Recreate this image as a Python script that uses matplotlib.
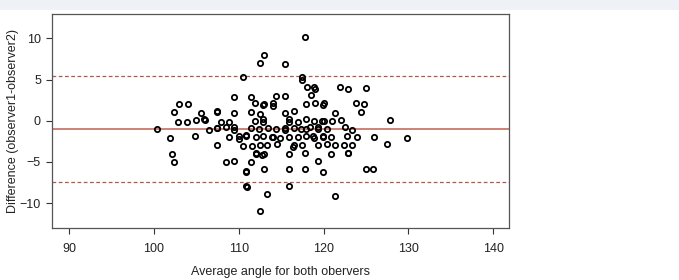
import matplotlib
matplotlib.use("Agg")
from matplotlib import pyplot as plt
from matplotlib.patches import Rectangle
import numpy as np

plt.rcParams['font.family'] = ['Liberation Sans', 'DejaVu Sans']

# averages of the two observers (x) and their differences (y)
avg_angle = [100.4, 101.9, 102.1, 102.4, 102.4, 103.0, 102.9, 103.9, 104.0, 104.8,
             105.0, 105.5, 105.9, 106.0, 106.5, 107.4, 107.5, 107.4, 107.5, 107.5,
             107.9, 108.5, 108.5, 108.9, 108.9, 109.4, 109.5, 109.5, 109.5, 109.5,
             110.0, 110.0, 110.5, 110.5, 110.9, 110.9, 110.9, 110.9, 110.9, 111.0,
             111.4, 111.5, 111.5, 111.5, 111.6, 111.9, 111.9, 112.0, 112.0, 112.0,
             112.5, 112.5, 112.4, 112.5, 112.5, 112.8, 112.9, 113.0, 112.9, 112.9,
             112.9, 113.0, 113.0, 113.0, 113.3, 113.3, 113.4, 113.9, 114.0, 114.1,
             114.0, 114.4, 114.4, 114.5, 114.9, 115.4, 115.4, 115.4, 115.4, 115.4,
             115.9, 115.9, 115.9, 115.9, 115.9, 115.9, 116.5, 116.5, 116.5, 116.4,
             117.0, 117.0, 117.3, 117.5, 117.5, 117.5, 117.8, 117.8, 117.8, 117.9,
             117.9, 118.0, 117.9, 117.9, 118.4, 118.5, 118.8, 118.9, 119.0, 119.0,
             118.9, 118.9, 119.4, 119.4, 119.4, 119.4, 119.9, 120.0, 119.8, 120.0,
             119.9, 119.9, 119.9, 120.4, 120.4, 120.9, 121.0, 120.9, 121.3, 121.3,
             121.3, 121.95, 122.0, 122.35, 122.5, 122.9, 122.8, 122.9, 122.9, 123.3,
             123.3, 123.8, 123.9, 124.4, 124.8, 125.0, 125.0, 125.8, 126.0, 127.5,
             127.8, 129.8]
diff = [-1.0, -2.1, -4.0, -5.0, 1.05, 2.0, -0.1, -0.1, 2.0, -1.9,
        0.1, 0.9, 0.2, 0.1, -1.1, 1.2, 1.05, -0.9, -0.9, -3.0,
        -0.1, -0.8, -5.0, -0.2, -2.0, 2.9, 0.9, -0.8, -1.1, -4.9,
        -1.8, -2.2, 5.25, -3.1, -1.7, -1.9, -6.1, -6.2, -7.9, -8.0,
        -5.0, 2.9, 1.1, -0.85, -3.1, 2.2, 0.0, -2.0, -3.9, -4.0,
        6.95, 0.85, -1.0, -2.9, -10.9, -4.1, 1.9, 2.0, 0.25, -0.15,
        -1.9, -4.0, -5.9, 8.0, -2.95, -8.85, -0.9, -2.0, 2.1, 1.85,
        -2.0, 2.95, -0.95, -2.8, -2.05, 6.85, 3.0, 1.0, -0.9, -1.1,
        -0.1, 0.25, -2.0, -4.0, -5.9, -7.9, 1.2, -0.85, -3.0, -3.2,
        -0.1, -2.0, -1.0, 5.3, 5.0, -2.9, 10.1, -5.9, -3.9, 0.25,
        2.0, 4.05, -0.95, -1.9, -0.8, 3.1, -1.9, 4.1, 3.9, 2.1,
        -0.05, -2.05, -0.8, -1.05, -3.0, -4.9, 1.9, 2.1, 0.0, 0.0,
        -1.9, -2.0, -6.2, -1.05, -2.8, -2.0, 0.0, -4.0, 0.9, -2.95,
        -9.1, 4.15, 0.1, -3.0, -0.75, 3.9, -1.85, -3.9, -3.95, -1.1,
        -3.0, 2.1, -2.0, 1.05, 2.0, 4.0, -5.85, -5.9, -2.0, -2.8,
        0.1, -2.15]

mean_diff = -1.0
upper_loa = 5.47
lower_loa = -7.45

fig = plt.figure(figsize=(6.79, 2.80), dpi=100)
fig.patch.set_facecolor('white')
fig.patches.append(Rectangle((0, 0.965), 1, 0.035, transform=fig.transFigure,
                             facecolor='#eef1f5', edgecolor='none', zorder=-1))
ax = fig.add_axes([0.0766, 0.186, 0.673, 0.764])

ax.plot(avg_angle, diff, 'o', mfc='none', mec='black', ms=3.8, mew=1.3, zorder=3)
ax.axhline(mean_diff, color='#c8786c', lw=1.3, zorder=2)
ax.axhline(upper_loa, color='#b0584a', lw=0.9, ls=(0, (3, 2)), zorder=2)
ax.axhline(lower_loa, color='#b0584a', lw=0.9, ls=(0, (3, 2)), zorder=2)

ax.set_xlim(88.0, 141.85)
ax.set_ylim(-13.0, 12.95)
ax.set_xticks([90, 100, 110, 120, 130, 140])
ax.set_yticks([-10, -5, 0, 5, 10])
ax.tick_params(direction='out', length=4, width=0.8, colors='#333333',
               labelsize=9, labelcolor='#222222')
ax.tick_params(axis='x', pad=7)
ax.tick_params(axis='y', pad=4)
for s in ax.spines.values():
    s.set_color('#555555')
    s.set_linewidth(0.9)

ax.set_xlabel('Average angle for both obervers', fontsize=9, color='#222222')
ax.set_ylabel('Difference (observer1-observer2)', fontsize=9, color='#222222')
ax.xaxis.set_label_coords(0.5, -0.18)
ax.yaxis.set_label_coords(-0.072, 0.5)

fig.savefig('out.png', dpi=100)
